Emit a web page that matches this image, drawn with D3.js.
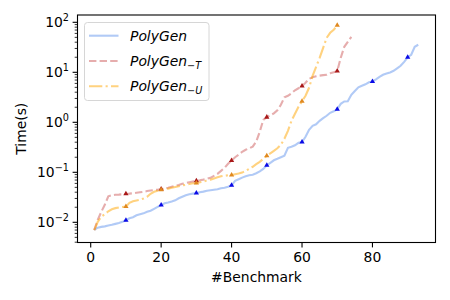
<!DOCTYPE html>
<html>
<head>
<meta charset="utf-8">
<script src="https://cdn.jsdelivr.net/npm/d3@7"></script>
<style>
  body { margin: 0; background: #fff; }
  text { font-family: "DejaVu Sans", sans-serif; fill: #000; }
</style>
</head>
<body>
<svg id="chart" width="450" height="300"></svg>
<script>
// runtime (s) per benchmark, benchmark number = index + 1
const polyGen = [
  0.0071, 0.0078, 0.0081, 0.0083, 0.0086, 0.0089, 0.0093, 0.0097, 0.0102, 0.011,
  0.012, 0.0126, 0.0138, 0.0145, 0.0151, 0.0162, 0.017, 0.0186, 0.0204, 0.0222,
  0.024, 0.0249, 0.0261, 0.0275, 0.0302, 0.0324, 0.0347, 0.0363, 0.0375, 0.0384,
  0.0398, 0.0411, 0.0427, 0.0437, 0.0447, 0.0457, 0.0479, 0.049, 0.0513, 0.055,
  0.0676, 0.0724, 0.0783, 0.0832, 0.0871, 0.0891, 0.0955, 0.104, 0.117, 0.138,
  0.155, 0.174, 0.186, 0.2, 0.214, 0.309, 0.324, 0.347, 0.389, 0.402,
  0.513, 0.708, 0.851, 0.912, 1.07, 1.21, 1.35, 1.55, 1.66, 1.82,
  2.34, 2.61, 2.63, 3.55, 4.23, 5.01, 5.37, 5.75, 6.31, 6.55,
  7.24, 8.13, 8.91, 9.42, 9.95, 10.7, 12.0, 13.5, 16.2, 20.0,
  22.4, 32.4, 35.5
]
const polyGenT = [
  0.007, 0.0112, 0.0162, 0.0224, 0.0331, 0.0347, 0.0355, 0.0358, 0.0363, 0.0372,
  0.0375, 0.038, 0.0389, 0.0398, 0.0407, 0.0421, 0.0433, 0.0441, 0.0447, 0.0461,
  0.0479, 0.049, 0.0513, 0.0537, 0.0557, 0.0589, 0.0608, 0.0631, 0.0652, 0.0676,
  0.0692, 0.0714, 0.0741, 0.0776, 0.0851, 0.0933, 0.107, 0.123, 0.148, 0.172,
  0.2, 0.224, 0.257, 0.282, 0.302, 0.327, 0.413, 0.646, 1.12, 1.27,
  1.38, 1.51, 1.74, 2.24, 3.16, 3.39, 3.80, 4.37, 4.79, 5.30,
  6.17, 7.41, 7.94, 8.32, 8.59, 8.79, 8.91, 9.55, 10.0, 10.6,
  19.5, 32.4, 40.7, 51.3
]
const polyGenU = [
  0.007, 0.0102, 0.0129, 0.0145, 0.0166, 0.0182, 0.0192, 0.0198, 0.0202, 0.0207,
  0.0245, 0.0263, 0.0272, 0.0282, 0.0299, 0.0324, 0.0372, 0.0407, 0.0427, 0.0447,
  0.0461, 0.0472, 0.049, 0.0508, 0.0525, 0.0545, 0.0562, 0.0581, 0.0603, 0.0608,
  0.0631, 0.0655, 0.0686, 0.0714, 0.0752, 0.0794, 0.0832, 0.0851, 0.0871, 0.0883,
  0.0912, 0.0942, 0.0986, 0.107, 0.117, 0.129, 0.145, 0.162, 0.186, 0.214,
  0.24, 0.269, 0.302, 0.355, 0.468, 0.676, 1.07, 1.48, 2.04, 2.63,
  3.39, 4.90, 8.51, 12.9, 19.5, 30.9, 49.0, 61.7, 70.8, 87.1
]
const xTicks = [0, 20, 40, 60, 80]
const yExps = [-2, -1, 0, 1, 2]
const markEvery = 10

const series = [
  {name: "PolyGen", sub: null, values: polyGen, color: "cornflowerblue", mark: "#0a0ae6", dash: null},
  {name: "PolyGen", sub: "T", values: polyGenT, color: "indianred", mark: "#a81818", dash: "7.4,3.2"},
  {name: "PolyGen", sub: "U", values: polyGenU, color: "orange", mark: "#e0891f", dash: "13.3,3.3,2.1,3.3"}
]

const m = {left: 77.5, right: 435.5, top: 15, bottom: 242.5}
const svg = d3.select("#chart")

const x = d3.scaleLinear().domain([-3.75, 97.9]).range([m.left, m.right])
const y = d3.scaleLog().domain([Math.pow(10, -2.404), Math.pow(10, 2.146)]).range([m.bottom, m.top])

// lines
const line = d3.line()
  .x((d, i) => x(i + 1))
  .y(d => y(d))

svg.append("g")
  .selectAll("path")
  .data(series)
  .join("path")
  .attr("d", d => line(d.values))
  .attr("fill", "none")
  .attr("stroke", d => d.color)
  .attr("stroke-opacity", 0.5)
  .attr("stroke-width", 2.1)
  .attr("stroke-dasharray", d => d.dash)

// triangle markers every 10th benchmark
const tri = d3.symbol().type(d3.symbolTriangle).size(12)
series.forEach(s => {
  const pts = s.values.map((v, i) => ({b: i + 1, v: v})).filter(p => p.b % markEvery === 0)
  svg.append("g")
    .selectAll("path")
    .data(pts)
    .join("path")
    .attr("d", tri)
    .attr("transform", d => `translate(${x(d.b)},${y(d.v)})`)
    .attr("fill", s.mark)
})

// frame
svg.append("rect")
  .attr("x", m.left).attr("y", m.top)
  .attr("width", m.right - m.left).attr("height", m.bottom - m.top)
  .attr("fill", "none").attr("stroke", "#000").attr("stroke-width", 1.1)

// x axis
const xg = svg.append("g")
xg.selectAll("line")
  .data(xTicks)
  .join("line")
  .attr("x1", d => x(d)).attr("x2", d => x(d))
  .attr("y1", m.bottom).attr("y2", m.bottom + 4.9)
  .attr("stroke", "#000").attr("stroke-width", 1.1)
xg.selectAll("text")
  .data(xTicks)
  .join("text")
  .attr("x", d => x(d))
  .attr("y", 262)
  .attr("text-anchor", "middle")
  .attr("font-size", 13.9)
  .text(d => d)

svg.append("text")
  .attr("x", (m.left + m.right) / 2)
  .attr("y", 282)
  .attr("text-anchor", "middle")
  .attr("font-size", 13.9)
  .text("#Benchmark")

// y axis, log ticks
const minor = []
for (let e = -3; e <= 2; e++) {
  for (let k = 2; k <= 9; k++) {
    const v = k * Math.pow(10, e)
    if (v >= y.domain()[0] && v <= y.domain()[1]) minor.push(v)
  }
}
const yg = svg.append("g")
yg.selectAll("line.minor")
  .data(minor)
  .join("line")
  .attr("class", "minor")
  .attr("x1", m.left).attr("x2", m.left - 2.8)
  .attr("y1", d => y(d)).attr("y2", d => y(d))
  .attr("stroke", "#000").attr("stroke-width", 0.8)
yg.selectAll("line.major")
  .data(yExps)
  .join("line")
  .attr("class", "major")
  .attr("x1", m.left).attr("x2", m.left - 4.9)
  .attr("y1", d => y(Math.pow(10, d))).attr("y2", d => y(Math.pow(10, d)))
  .attr("stroke", "#000").attr("stroke-width", 1.1)
const yl = yg.selectAll("text")
  .data(yExps)
  .join("text")
  .attr("x", 69)
  .attr("y", d => y(Math.pow(10, d)) + 5)
  .attr("text-anchor", "end")
  .attr("font-size", 13.9)
yl.append("tspan").text("10")
yl.append("tspan")
  .attr("font-size", 9.7)
  .attr("dy", -6)
  .text(d => d < 0 ? "\u2212" + (-d) : d)

svg.append("text")
  .attr("transform", `translate(26,${(m.top + m.bottom) / 2}) rotate(-90)`)
  .attr("text-anchor", "middle")
  .attr("font-size", 13.9)
  .text("Time(s)")

// legend
const lg = svg.append("g")
lg.append("rect")
  .attr("x", 84.5).attr("y", 22.5)
  .attr("width", 124.5).attr("height", 78)
  .attr("rx", 3)
  .attr("fill", "#fff").attr("fill-opacity", 0.8)
  .attr("stroke", "#d6d6d6").attr("stroke-width", 1)
const rows = lg.selectAll("g.row")
  .data(series)
  .join("g")
  .attr("class", "row")
  .attr("transform", (d, i) => `translate(0,${35.7 + i * 25.3})`)
rows.append("line")
  .attr("x1", 89).attr("x2", 118.5)
  .attr("stroke", d => d.color)
  .attr("stroke-opacity", 0.5)
  .attr("stroke-width", 2.1)
  .attr("stroke-dasharray", d => d.dash)
const lt = rows.append("text")
  .attr("x", 130)
  .attr("y", 5)
  .attr("font-size", 13.9)
  .attr("font-style", "italic")
lt.append("tspan").text(d => d.name)
const subs = lt.filter(d => d.sub)
subs.append("tspan")
  .attr("font-size", 9.7)
  .attr("font-style", "normal")
  .attr("dy", 3)
  .text("\u2212")
subs.append("tspan")
  .attr("font-size", 9.7)
  .text(d => d.sub)
</script>
</body>
</html>
